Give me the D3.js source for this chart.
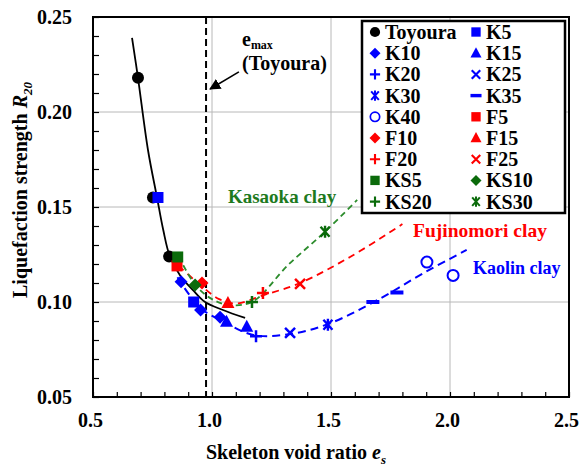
<!DOCTYPE html>
<html>
<head>
<meta charset="utf-8">
<script src="https://cdn.jsdelivr.net/npm/d3@7"></script>
<style>
  body { margin: 0; background: #fff; }
  text { font-family: "Liberation Serif", "Times New Roman", serif; font-weight: bold; }
</style>
</head>
<body>
<div class="chart"></div>
<script>
// measured points, [skeleton void ratio, R20]
var toyoura = [[0.689, 0.218], [0.752, 0.155], [0.820, 0.124]];
var k5  = [[0.773, 0.155], [0.923, 0.100]];
var k10 = [[0.870, 0.1107], [0.952, 0.0958], [1.034, 0.092]];
var k15 = [[1.061, 0.0896], [1.146, 0.087]];
var k20 = [[1.185, 0.082]];
var k25 = [[1.328, 0.0837]];
var k30 = [[1.487, 0.088]];
var k35 = [[1.676, 0.100], [1.777, 0.105]];
var k40 = [[1.903, 0.121], [2.013, 0.114]];
var f5  = [[0.853, 0.119]];
var f10 = [[0.958, 0.110]];
var f15 = [[1.067, 0.0995]];
var f20 = [[1.214, 0.1047]];
var f25 = [[1.370, 0.1095]];
var ks5  = [[0.856, 0.1237]];
var ks10 = [[0.929, 0.109]];
var ks20 = [[1.168, 0.100]];
var ks30 = [[1.475, 0.137]];

// trend curves
var toyouraFit = [[0.664, 0.239], [0.689, 0.218], [0.731, 0.180], [0.769, 0.155], [0.795, 0.138],
  [0.823, 0.124], [0.866, 0.114], [0.920, 0.1063], [0.971, 0.100], [1.046, 0.0958], [1.139, 0.0916]];
var kaolinFit = [[0.855, 0.113], [0.95, 0.097], [1.05, 0.0895], [1.18, 0.0825], [1.33, 0.0832],
  [1.49, 0.0885], [1.68, 0.100], [1.90, 0.116], [2.07, 0.1274]];
var fujiFit = [[0.86, 0.119], [0.95, 0.109], [1.03, 0.1015], [1.10, 0.0992], [1.214, 0.1035],
  [1.37, 0.110], [1.58, 0.1237], [1.80, 0.141]];
var kasaokaFit = [[0.86, 0.124], [0.93, 0.109], [1.00, 0.1015], [1.07, 0.0985], [1.168, 0.100],
  [1.32, 0.1195], [1.475, 0.137], [1.61, 0.1537]];

var xTicks = [0.5, 1.0, 1.5, 2.0, 2.5];
var yTicks = [0.05, 0.10, 0.15, 0.20, 0.25];
var eMax = 0.975;

var blue = "#0000ff", red = "#ff0000", green = "#0b6b0b", greenLine = "#2c8c2c";

var legendItems = [
  ["Toyoura", toyoura, "circle", "#000"], ["K5", k5, "square", blue],
  ["K10", k10, "diamond", blue], ["K15", k15, "triangle", blue],
  ["K20", k20, "plus", blue], ["K25", k25, "cross", blue],
  ["K30", k30, "star", blue], ["K35", k35, "dash", blue],
  ["K40", k40, "ring", blue], ["F5", f5, "square", red],
  ["F10", f10, "diamond", red], ["F15", f15, "triangle", red],
  ["F20", f20, "plus", red], ["F25", f25, "cross", red],
  ["KS5", ks5, "square", green], ["KS10", ks10, "diamond", green],
  ["KS20", ks20, "plus", green], ["KS30", ks30, "star", green]
];

var svgWidth = 579, svgHeight = 468;
var margin = {top: 17, right: 10, bottom: 71, left: 93};

var svg = d3.select(".chart").append("svg")
  .attr("width", svgWidth)
  .attr("height", svgHeight);

var x = d3.scaleLinear().domain([0.5, 2.5]).range([margin.left, svgWidth - margin.right]);
var y = d3.scaleLinear().domain([0.05, 0.25]).range([svgHeight - margin.bottom, margin.top]);

// gridlines
svg.append("g").selectAll("line").data(xTicks.slice(1, -1)).enter().append("line")
  .attr("x1", d => x(d)).attr("x2", d => x(d))
  .attr("y1", y(0.05)).attr("y2", y(0.25))
  .attr("stroke", "#b8b8b8").attr("stroke-width", 1);
svg.append("g").selectAll("line").data(yTicks.slice(1, -1)).enter().append("line")
  .attr("y1", d => y(d)).attr("y2", d => y(d))
  .attr("x1", x(0.5)).attr("x2", x(2.5))
  .attr("stroke", "#b8b8b8").attr("stroke-width", 1);

// minor ticks, pointing inward
var xMinor = d3.range(0.5, 2.5001, 0.1);
var yMinor = d3.range(0.05, 0.2501, 0.01);
svg.append("g")
  .attr("transform", `translate(0, ${y(0.05)})`)
  .call(d3.axisBottom(x).tickValues(xMinor).tickSize(-5).tickFormat(""))
  .call(g => g.select(".domain").remove())
  .selectAll("line").attr("stroke", "#000").attr("stroke-width", 1.2);
svg.append("g")
  .attr("transform", `translate(${x(0.5)}, 0)`)
  .call(d3.axisLeft(y).tickValues(yMinor).tickSize(-6).tickFormat(""))
  .call(g => g.select(".domain").remove())
  .selectAll("line").attr("stroke", "#000").attr("stroke-width", 1.2);

// tick labels
var xAxis = svg.append("g")
  .attr("transform", `translate(0, ${y(0.05)})`)
  .call(d3.axisBottom(x).tickValues(xTicks).tickSize(0).tickPadding(20).tickFormat(d3.format(".1f")));
xAxis.select(".domain").remove();
xAxis.selectAll("text").attr("font-size", 20).attr("fill", "#000")
  .attr("font-family", "Liberation Serif").attr("dy", "0.5em").attr("dx", -3);

var yAxis = svg.append("g")
  .attr("transform", `translate(${x(0.5)}, 0)`)
  .call(d3.axisLeft(y).tickValues(yTicks).tickSize(0).tickPadding(21).tickFormat(d3.format(".2f")));
yAxis.select(".domain").remove();
yAxis.selectAll("text").attr("font-size", 20).attr("fill", "#000")
  .attr("font-family", "Liberation Serif");

// e_max line
svg.append("line")
  .attr("x1", x(eMax)).attr("x2", x(eMax))
  .attr("y1", y(0.25)).attr("y2", y(0.05))
  .attr("stroke", "#000").attr("stroke-width", 2)
  .attr("stroke-dasharray", "7,4");

var line = d3.line()
  .x(d => x(d[0]))
  .y(d => y(d[1]))
  .curve(d3.curveCatmullRom.alpha(0.5));

svg.append("path").datum(kaolinFit).attr("d", line)
  .attr("fill", "none").attr("stroke", blue).attr("stroke-width", 2).attr("stroke-dasharray", "8,5");
svg.append("path").datum(fujiFit).attr("d", line)
  .attr("fill", "none").attr("stroke", red).attr("stroke-width", 1.8).attr("stroke-dasharray", "7,5");
svg.append("path").datum(kasaokaFit).attr("d", line)
  .attr("fill", "none").attr("stroke", greenLine).attr("stroke-width", 1.8).attr("stroke-dasharray", "6,4");
svg.append("path").datum(toyouraFit).attr("d", line)
  .attr("fill", "none").attr("stroke", "#000").attr("stroke-width", 1.8);

function drawMarker(g, type, color) {
  if (type === "circle") {
    g.append("circle").attr("r", 6).attr("fill", color);
  } else if (type === "ring") {
    g.append("circle").attr("r", 5.5).attr("fill", "#fff").attr("stroke", color).attr("stroke-width", 2);
  } else if (type === "square") {
    g.append("rect").attr("x", -5.5).attr("y", -5.5).attr("width", 11).attr("height", 11).attr("fill", color);
  } else if (type === "diamond") {
    g.append("path").attr("d", "M0,-6.5L6.5,0L0,6.5L-6.5,0Z").attr("fill", color);
  } else if (type === "triangle") {
    g.append("path").attr("d", "M0,-7L6.5,5L-6.5,5Z").attr("fill", color);
  } else if (type === "plus") {
    g.append("path").attr("d", "M-6,0H6M0,-6V6").attr("stroke", color).attr("stroke-width", 2.5);
  } else if (type === "cross") {
    g.append("path").attr("d", "M-5,-5L5,5M-5,5L5,-5").attr("stroke", color).attr("stroke-width", 2.5);
  } else if (type === "star") {
    g.append("path").attr("d", "M-4.5,-5L4.5,5M-4.5,5L4.5,-5M0,-6V6")
      .attr("stroke", color).attr("stroke-width", 2.4);
  } else if (type === "dash") {
    g.append("rect").attr("x", -6.5).attr("y", -2).attr("width", 13).attr("height", 4).attr("fill", color);
  }
}

// points
legendItems.forEach(function(item) {
  svg.append("g").selectAll("g").data(item[1]).enter().append("g")
    .attr("transform", d => `translate(${x(d[0])}, ${y(d[1])})`)
    .each(function() { drawMarker(d3.select(this), item[2], item[3]); });
});

// frame
svg.append("rect")
  .attr("x", x(0.5)).attr("y", y(0.25))
  .attr("width", x(2.5) - x(0.5)).attr("height", y(0.05) - y(0.25))
  .attr("fill", "none").attr("stroke", "#000").attr("stroke-width", 2);

// axis titles
var xTitle = svg.append("text")
  .attr("x", 296).attr("y", 459)
  .attr("text-anchor", "middle").attr("font-size", 20);
xTitle.append("tspan").text("Skeleton void ratio  ");
xTitle.append("tspan").attr("font-style", "italic").text("e");
xTitle.append("tspan").attr("font-style", "italic").attr("font-size", 13).attr("dy", 5).text("s");

var yTitle = svg.append("text")
  .attr("transform", "translate(27, 190) rotate(-90)")
  .attr("text-anchor", "middle").attr("font-size", 20);
yTitle.append("tspan").text("Liquefaction strength  ");
yTitle.append("tspan").attr("font-style", "italic").text("R");
yTitle.append("tspan").attr("font-style", "italic").attr("font-size", 13).attr("dy", 5).text("20");

// e_max annotation
svg.append("defs").append("marker")
  .attr("id", "arrow").attr("viewBox", "0 0 10 10")
  .attr("refX", 9).attr("refY", 5)
  .attr("markerWidth", 7).attr("markerHeight", 7)
  .attr("orient", "auto")
  .append("path").attr("d", "M0,0L10,5L0,10Z").attr("fill", "#000");
svg.append("line")
  .attr("x1", x(1.113)).attr("y1", y(0.2211))
  .attr("x2", x(0.992)).attr("y2", y(0.2121))
  .attr("stroke", "#000").attr("stroke-width", 1.6)
  .attr("marker-end", "url(#arrow)");
var emaxText = svg.append("text").attr("x", x(1.126)).attr("y", 46).attr("font-size", 20);
emaxText.append("tspan").text("e");
emaxText.append("tspan").attr("font-size", 12).attr("dy", 3).text("max");
svg.append("text").attr("x", x(1.126)).attr("y", 70).attr("font-size", 20).text("(Toyoura)");

// clay labels
svg.append("text").attr("x", x(1.067)).attr("y", 203).attr("font-size", 19)
  .attr("fill", "#1e7a1e").text("Kasaoka clay");
svg.append("text").attr("x", x(1.845)).attr("y", 237).attr("font-size", 19.5)
  .attr("fill", red).text("Fujinomori clay");
svg.append("text").attr("x", x(2.097)).attr("y", 274).attr("font-size", 18)
  .attr("fill", blue).text("Kaolin clay");

// legend
var legend = svg.append("g");
legend.append("rect")
  .attr("x", 362).attr("y", 21).attr("width", 203).attr("height", 192)
  .attr("fill", "#fff").attr("stroke", "#000").attr("stroke-width", 2.5);
var rowH = 21.2;
legendItems.forEach(function(item, i) {
  var col = i % 2, row = Math.floor(i / 2);
  var gx = col === 0 ? 375 : 476;
  var gy = 32 + row * rowH;
  var g = legend.append("g").attr("transform", `translate(${gx}, ${gy}) scale(0.85)`);
  drawMarker(g, item[2], item[3]);
  legend.append("text")
    .attr("x", gx + 10).attr("y", gy + 7)
    .attr("font-size", 20).attr("fill", "#000")
    .text(item[0]);
});
</script>
</body>
</html>
